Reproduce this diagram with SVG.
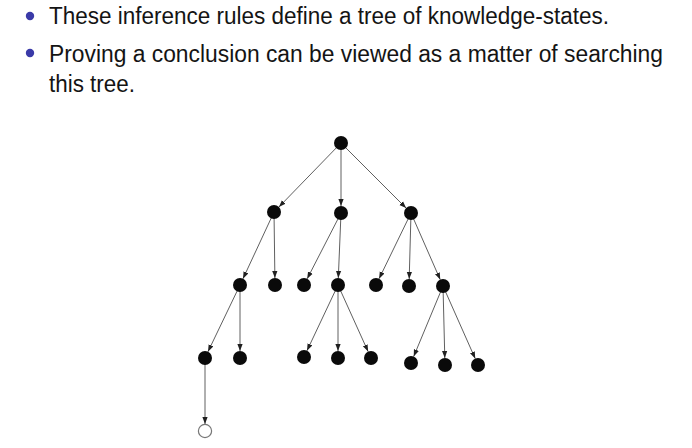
<svg xmlns="http://www.w3.org/2000/svg" width="692" height="448" viewBox="0 0 692 448">
<style>
.txt{font-family:"Liberation Sans",Arial,sans-serif;font-size:23px;fill:#141414}
.bul{fill:#3a3aa8}
.n{fill:#0a0a0a}
.open{fill:#fff;stroke:#777;stroke-width:1.2}
.e{stroke:#606060;stroke-width:1;fill:none;marker-end:url(#ah)}
</style>
<defs>
<marker id="ah" markerUnits="userSpaceOnUse" markerWidth="8" markerHeight="6" refX="7" refY="3" orient="auto">
<path d="M0,0.4 L7,3 L0,5.6 z" fill="#202020"/>
</marker>
</defs>
<rect width="692" height="448" fill="#fff"/>
<g id="text">
<circle class="bul" cx="30" cy="16" r="4.2"/>
<text class="txt" x="49" y="24" textLength="560" lengthAdjust="spacingAndGlyphs">These inference rules define a tree of knowledge-states.</text>
<circle class="bul" cx="30" cy="53" r="4.2"/>
<text class="txt" x="49" y="61.5" textLength="614" lengthAdjust="spacingAndGlyphs">Proving a conclusion can be viewed as a matter of searching</text>
<text class="txt" x="49" y="92" textLength="86" lengthAdjust="spacingAndGlyphs">this tree.</text>
</g>
<g id="connectors">
<line class="e" x1="341" y1="143" x2="278.9" y2="207"/>
<line class="e" x1="341" y1="143" x2="341" y2="206"/>
<line class="e" x1="341" y1="143" x2="406.1" y2="208.1"/>
<line class="e" x1="274" y1="212" x2="243" y2="278.7"/>
<line class="e" x1="274" y1="212" x2="274.9" y2="278"/>
<line class="e" x1="341" y1="213" x2="307.2" y2="278.8"/>
<line class="e" x1="341" y1="213" x2="338.3" y2="278"/>
<line class="e" x1="411" y1="213" x2="379.1" y2="278.7"/>
<line class="e" x1="411" y1="213" x2="409.2" y2="279"/>
<line class="e" x1="411" y1="213" x2="440.2" y2="279.6"/>
<line class="e" x1="240" y1="285" x2="208" y2="351.7"/>
<line class="e" x1="240" y1="285" x2="240" y2="351"/>
<line class="e" x1="338" y1="285" x2="307" y2="350.7"/>
<line class="e" x1="338" y1="285" x2="338" y2="351"/>
<line class="e" x1="338" y1="285" x2="368.1" y2="351.6"/>
<line class="e" x1="443" y1="286" x2="413.7" y2="356.5"/>
<line class="e" x1="443" y1="286" x2="444.8" y2="358"/>
<line class="e" x1="443" y1="286" x2="475.2" y2="358.6"/>
<line class="e" x1="205" y1="358" x2="205" y2="424"/>
</g>
<g id="n-root"><circle class="n" cx="341" cy="143" r="7"/></g>
<g id="n-a"><circle class="n" cx="274" cy="212" r="7"/></g>
<g id="n-b"><circle class="n" cx="341" cy="213" r="7"/></g>
<g id="n-c"><circle class="n" cx="411" cy="213" r="7"/></g>
<g id="n-d"><circle class="n" cx="240" cy="285" r="7"/></g>
<g id="n-e"><circle class="n" cx="275" cy="285" r="7"/></g>
<g id="n-f"><circle class="n" cx="304" cy="285" r="7"/></g>
<g id="n-g"><circle class="n" cx="338" cy="285" r="7"/></g>
<g id="n-h"><circle class="n" cx="376" cy="285" r="7"/></g>
<g id="n-i"><circle class="n" cx="409" cy="286" r="7"/></g>
<g id="n-j"><circle class="n" cx="443" cy="286" r="7"/></g>
<g id="n-k"><circle class="n" cx="205" cy="358" r="7"/></g>
<g id="n-l"><circle class="n" cx="240" cy="358" r="7"/></g>
<g id="n-m"><circle class="n" cx="304" cy="357" r="7"/></g>
<g id="n-n"><circle class="n" cx="338" cy="358" r="7"/></g>
<g id="n-o"><circle class="n" cx="371" cy="358" r="7"/></g>
<g id="n-p"><circle class="n" cx="411" cy="363" r="7"/></g>
<g id="n-q"><circle class="n" cx="445" cy="365" r="7"/></g>
<g id="n-s"><circle class="n" cx="478" cy="365" r="7"/></g>
<g id="n-goal"><circle class="open" cx="205" cy="431" r="6.6"/></g>
</svg>
